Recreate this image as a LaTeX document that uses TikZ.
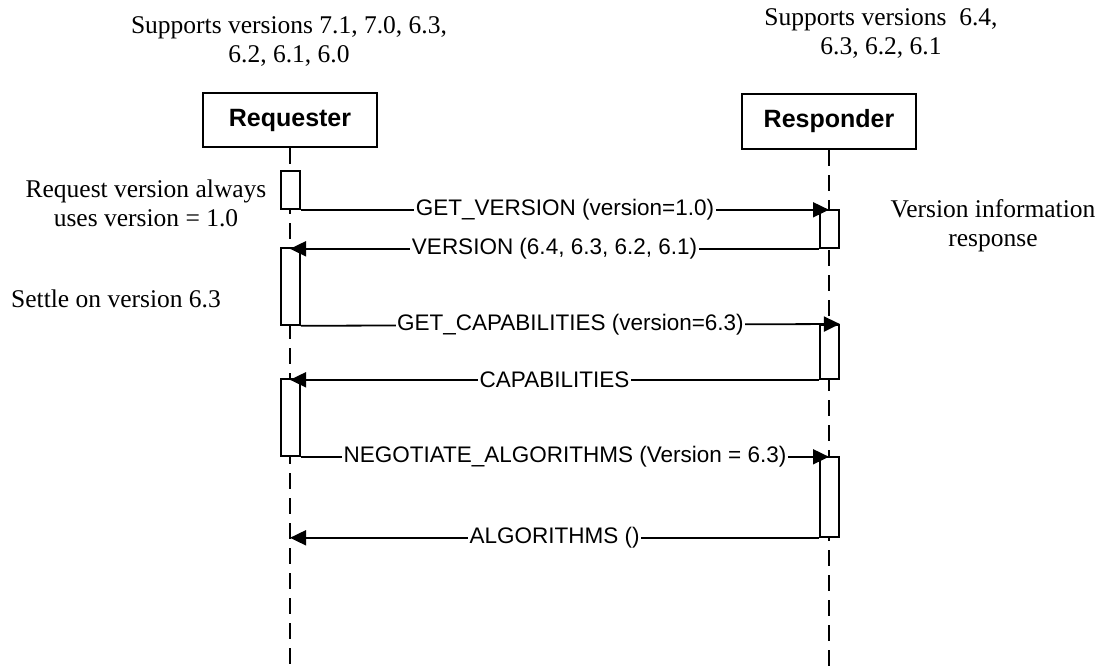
\documentclass[tikz,border=0pt]{standalone}
\usepackage{fontspec}
\setmainfont{Liberation Serif}
\setsansfont{Liberation Sans}
\usetikzlibrary{arrows.meta}
\begin{document}
\begin{tikzpicture}[x=1pt,y=-1pt,
  serif/.style={font=\fontsize{25.5}{29}\selectfont, align=center, inner sep=0pt},
  actor/.style={draw, line width=2pt, minimum width=174pt, minimum height=54pt, inner sep=0pt,
    font=\sffamily\bfseries\fontsize{25}{30}\selectfont},
  actbox/.style={draw, fill=white, line width=1.8pt, minimum width=19pt, inner sep=0pt, anchor=north},
  life/.style={line width=1.8pt, dash pattern=on 16pt off 9pt},
  msg/.style={line width=1.8pt, -{Triangle[length=16pt,width=15pt]}},
  lbl/.style={fill=white, inner sep=1.5pt, font=\sffamily\fontsize{22.5}{27}\selectfont}]
\useasboundingbox (0,0) rectangle (1101,669);
\fill[white] (0,0) rectangle (1101,669);

% actors
\node[actor] (req) at (290,120) {Requester};
\node[actor, minimum height=55pt] (res) at (829,121.5) {Responder};
\coordinate (qbot) at (290,669);
\coordinate (rbot) at (829,669);
\draw[life] (req.south) -- (qbot);
\draw[life] (res.south) -- (rbot);

% activation boxes
\node[actbox, minimum height=38pt] (qa1) at (290.5,170) {};
\node[actbox, minimum height=77pt] (qa2) at (290.5,247) {};
\node[actbox, minimum height=77pt] (qa3) at (290.5,378) {};
\node[actbox, minimum height=38pt] (ra1) at (829.5,209) {};
\node[actbox, minimum height=54pt] (ra2) at (829.5,324) {};
\node[actbox, minimum height=80pt] (ra3) at (829.5,456) {};

% messages
\draw[msg] (qa1.south east) -- node[lbl] {GET\_VERSION (version=1.0)} (rbot |- qa1.south east);
\draw[msg] (ra1.south west) -- node[lbl] {VERSION (6.4, 6.3, 6.2, 6.1)} (qbot |- ra1.south west);
\draw[msg] (qa2.south east) -- node[lbl] {GET\_CAPABILITIES (version=6.3)} (ra2.north east);
\draw[msg] (ra2.south west) -- node[lbl] {CAPABILITIES} (qbot |- ra2.south west);
\draw[msg] (qa3.south east) -- node[lbl] {NEGOTIATE\_ALGORITHMS (Version = 6.3)} (rbot |- qa3.south east);
\draw[msg] (ra3.south west) -- node[lbl] {ALGORITHMS ()} (qbot |- ra3.south west);

% notes
\node[serif] (tl) at (289,41) {Supports versions 7.1, 7.0, 6.3,\\6.2, 6.1, 6.0};
\node[serif] (tr) at (881,34) {Supports versions~ 6.4,\\6.3, 6.2, 6.1};
\node[serif] (n1) at (146,203) {Request version always\\uses version = 1.0};
\node[serif] (n2) at (116,299) {Settle on version 6.3};
\node[serif] (n3) at (993,226) {Version information\\response};
\end{tikzpicture}
\end{document}
